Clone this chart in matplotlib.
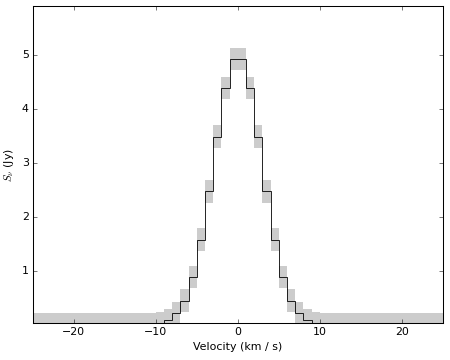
import numpy as np
import matplotlib
matplotlib.use("Agg")
import matplotlib.pyplot as plt

plt.style.use("classic")

# channel edges (km/s), channel width 1 km/s
edges = np.arange(-25, 26, 1.0)
# flux per channel (Jy), channels centred -24.5 ... 24.5
flux_left = [0.0] * 14 + [0.01, 0.03, 0.08, 0.21, 0.44, 0.88, 1.57, 2.47, 3.48, 4.38, 4.92]
flux = np.array(flux_left + flux_left[::-1])
err = 0.21  # Jy uncertainty

xticks = [-20, -10, 0, 10, 20]
yticks = [1, 2, 3, 4, 5]

fig = plt.figure(figsize=(6, 4.8), dpi=75)
ax = fig.add_axes([0.073, 0.103, 0.911, 0.880])
ax.stairs(flux + err, edges, baseline=flux - err, fill=True,
          color="gray", alpha=0.4, lw=0)
ax.stairs(flux, edges, color="k", lw=0.8)
ax.set_xlim(-25, 25)
ax.set_ylim(0.03, 5.9)
ax.set_xticks(xticks)
ax.set_yticks(yticks)
ax.tick_params(labelsize=10.5)
ax.set_xlabel("Velocity (km / s)", fontsize=10.5)
ax.set_ylabel(r"$S_\nu$ (Jy)", fontsize=10.5)
fig.savefig("out.png", dpi=75)
